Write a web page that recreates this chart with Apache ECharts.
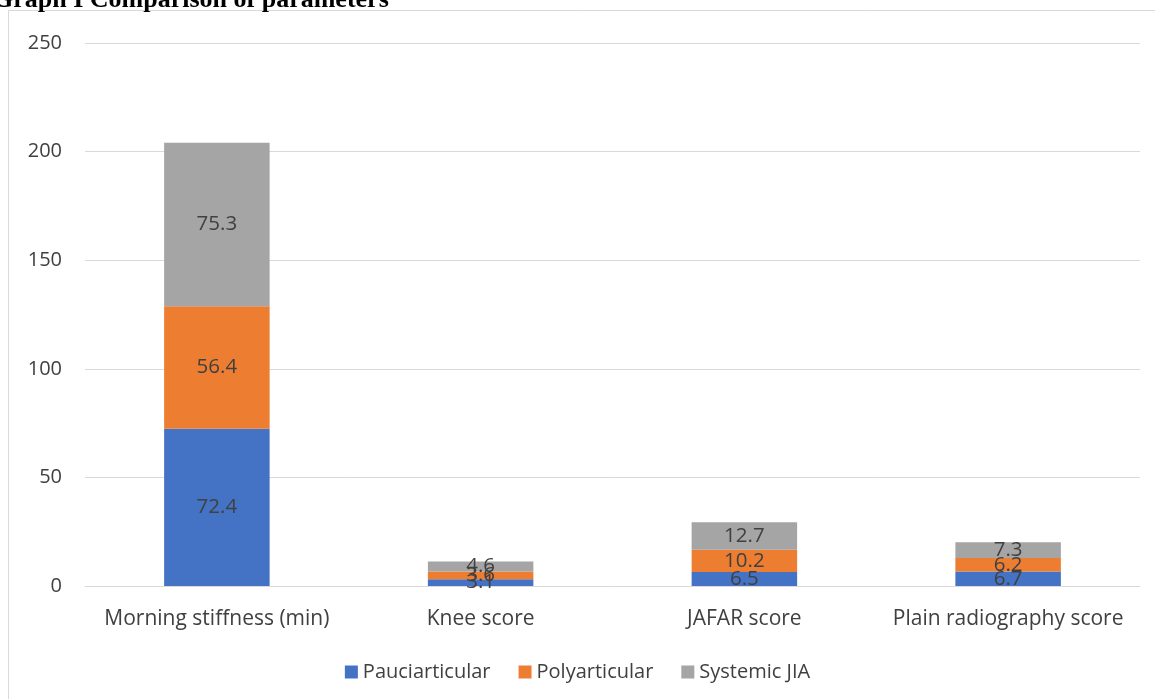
<!DOCTYPE html>
<html>
<head>
<meta charset="utf-8">
<style>
  html, body { margin: 0; padding: 0; background: #ffffff; }
  #chart { width: 1155px; height: 699px; }
</style>
<script src="https://cdn.jsdelivr.net/npm/echarts@6/dist/echarts.min.js"></script>
</head>
<body>
<div id="chart"></div>
<script>
// Parameters compared across JIA subtypes
const categories = ['Morning stiffness (min)', 'Knee score', 'JAFAR score', 'Plain radiography score'];
const pauciarticular = [72.4, 3.1, 6.5, 6.7];
const polyarticular = [56.4, 3.6, 10.2, 6.2];
const systemicJIA = [75.3, 4.6, 12.7, 7.3];
const yTicks = [0, 50, 100, 150, 200, 250];

const textColor = '#404040';
const fontFamily = '"Open Sans", "Noto Sans", sans-serif';

const chart = echarts.init(document.getElementById('chart'), null, { renderer: 'canvas' });

function barSeries(name, data, color) {
  return {
    name: name,
    type: 'bar',
    stack: 'total',
    data: data,
    barWidth: '40%',
    itemStyle: { color: color },
    label: {
      show: true,
      position: 'inside',
      color: textColor,
      fontSize: 20.5,
      fontFamily: fontFamily,
      formatter: p => p.value.toFixed(1)
    }
  };
}

chart.setOption({
  animation: false,
  graphic: [
    {
      type: 'rect',
      shape: { x: 8.5, y: 10.5, width: 1200, height: 720 },
      style: { fill: 'none', stroke: '#d9d9d9', lineWidth: 1 },
      z: -1
    },
    {
      type: 'text',
      style: {
        x: -7,
        y: -13,
        text: 'Graph I Comparison of parameters',
        font: 'bold 26px "Liberation Serif", serif',
        fill: '#000000'
      }
    }
  ],
  grid: { left: 85, right: 15, top: 43, bottom: 113, containLabel: false },
  legend: {
    bottom: 12,
    left: 'center',
    itemWidth: 13,
    itemHeight: 13,
    itemGap: 28,
    icon: 'rect',
    textStyle: { color: textColor, fontSize: 20, fontFamily: fontFamily },
    data: ['Pauciarticular', 'Polyarticular', 'Systemic JIA']
  },
  xAxis: {
    type: 'category',
    data: categories,
    axisLine: { lineStyle: { color: '#d9d9d9', width: 1 } },
    axisTick: { show: false },
    axisLabel: { color: textColor, fontSize: 21, fontFamily: fontFamily, margin: 23, interval: 0 }
  },
  yAxis: {
    type: 'value',
    min: yTicks[0],
    max: yTicks[yTicks.length - 1],
    interval: 50,
    axisLine: { show: false },
    axisTick: { show: false },
    splitLine: { lineStyle: { color: '#d9d9d9', width: 1 } },
    axisLabel: { color: textColor, fontSize: 20, fontFamily: fontFamily, margin: 23 }
  },
  series: [
    barSeries('Pauciarticular', pauciarticular, '#4472C4'),
    barSeries('Polyarticular', polyarticular, '#ED7D31'),
    barSeries('Systemic JIA', systemicJIA, '#A5A5A5')
  ]
});
</script>
</body>
</html>
